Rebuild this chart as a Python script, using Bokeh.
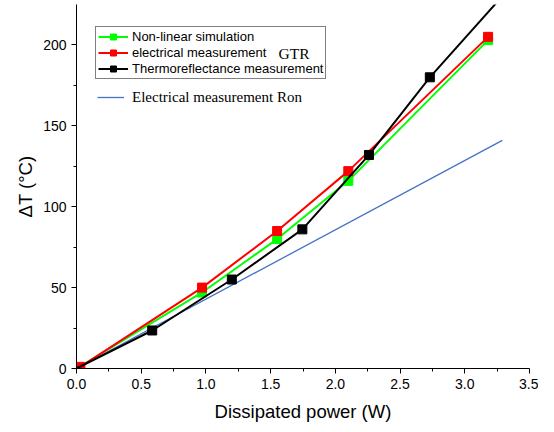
from bokeh.plotting import figure
from bokeh.models import (Range1d, FixedTicker, PrintfTickFormatter, Legend, LegendItem, Label)
from bokeh.embed import file_html
from bokeh.resources import INLINE

# ---- data ----
sim_x = [0.0, 0.97, 1.55, 2.10, 3.18]
sim_y = [0.0, 47, 80, 116, 203]

gtr_x = [0.03, 0.97, 1.55, 2.10, 3.18]
gtr_y = [1.0, 50, 85, 122, 205]

thermo_x = [0.0, 0.585, 1.20, 1.745, 2.26, 2.73, 3.30]
thermo_y = [0.0, 23.5, 55, 86, 132, 180, 231]

ron_x = [0.0, 3.29]
ron_y = [0.0, 141]

x_ticks = [0.0, 0.5, 1.0, 1.5, 2.0, 2.5, 3.0, 3.5]
x_minor = [0.25, 0.75, 1.25, 1.75, 2.25, 2.75, 3.25]
y_ticks = [0, 50, 100, 150, 200]
y_minor = [25, 75, 125, 175]

SANS = "Liberation Sans"
SERIF = "Liberation Serif"

p = figure(width=538, height=424, output_backend="svg", toolbar_location=None,
           x_range=Range1d(0, 3.5), y_range=Range1d(0, 225),
           min_border_left=76, min_border_right=9, min_border_top=4, min_border_bottom=56)
p.outline_line_color = None
p.grid.visible = False
p.background_fill_color = "white"

for ax in (p.xaxis[0], p.yaxis[0]):
    ax.axis_line_color = "black"
    ax.major_tick_line_color = "black"
    ax.minor_tick_line_color = "black"
    ax.major_tick_in = 0
    ax.major_tick_out = 5
    ax.minor_tick_in = 0
    ax.minor_tick_out = 3
    ax.major_label_text_font = SANS
    ax.major_label_text_font_size = "14px"
    ax.major_label_text_color = "black"
    ax.axis_label_text_font = SANS
    ax.axis_label_text_font_size = "18.5px"
    ax.axis_label_text_font_style = "normal"
    ax.axis_label_text_color = "black"

p.xaxis.ticker = FixedTicker(ticks=x_ticks, minor_ticks=x_minor)
p.xaxis.formatter = PrintfTickFormatter(format="%.1f")
p.yaxis.ticker = FixedTicker(ticks=y_ticks, minor_ticks=y_minor)
p.xaxis.axis_label = "Dissipated power (W)"
p.yaxis.axis_label = "ΔT (°C)"
p.xaxis.axis_label_standoff = 9
p.yaxis.axis_label_standoff = 4

ron_l = p.line(ron_x, ron_y, line_color="#4472C4", line_width=1.3)

sim_l = p.line(sim_x, sim_y, line_color="#00FF00", line_width=2)
sim_s = p.scatter(sim_x[1:], sim_y[1:], marker="square", size=9, fill_color="#00FF00", line_color="#00FF00")

gtr_l = p.line(gtr_x, gtr_y, line_color="#FF0000", line_width=2)
gtr_s = p.scatter(gtr_x, gtr_y, marker="square", size=9, fill_color="#FF0000", line_color="#FF0000")

th_l = p.line(thermo_x, thermo_y, line_color="black", line_width=2)
th_s = p.scatter(thermo_x[1:], thermo_y[1:], marker="square", size=9, fill_color="black", line_color="black")

leg = Legend(items=[
    LegendItem(label="Non-linear simulation", renderers=[sim_l, sim_s]),
    LegendItem(label="electrical measurement", renderers=[gtr_l, gtr_s]),
    LegendItem(label="Thermoreflectance measurement", renderers=[th_l, th_s]),
], location=(19, 289))
leg.label_text_font = SANS
leg.label_text_font_size = "13px"
leg.label_text_color = "black"
leg.border_line_color = "black"
leg.border_line_width = 1
leg.padding = 2
leg.margin = 0
leg.spacing = 1
leg.glyph_width = 30
leg.glyph_height = 15
leg.label_height = 15
leg.label_standoff = 4
leg.background_fill_alpha = 0
p.add_layout(leg, "center")

leg2 = Legend(items=[LegendItem(label="Electrical measurement Ron", renderers=[ron_l])],
              location=(19, 260))
leg2.label_text_font = SERIF
leg2.label_text_font_size = "15px"
leg2.label_text_color = "black"
leg2.border_line_alpha = 0
leg2.background_fill_alpha = 0
leg2.padding = 2
leg2.margin = 0
leg2.glyph_width = 27
leg2.glyph_height = 18
leg2.label_height = 18
leg2.label_standoff = 8
p.add_layout(leg2, "center")

gtr_lab = Label(x=202, y=315, x_units="screen", y_units="screen", text="GTR",
                text_font=SERIF, text_font_size="15.5px", text_color="black",
                text_baseline="middle", level="overlay")
p.add_layout(gtr_lab)

open("out.html", "w").write(file_html(p, INLINE))
